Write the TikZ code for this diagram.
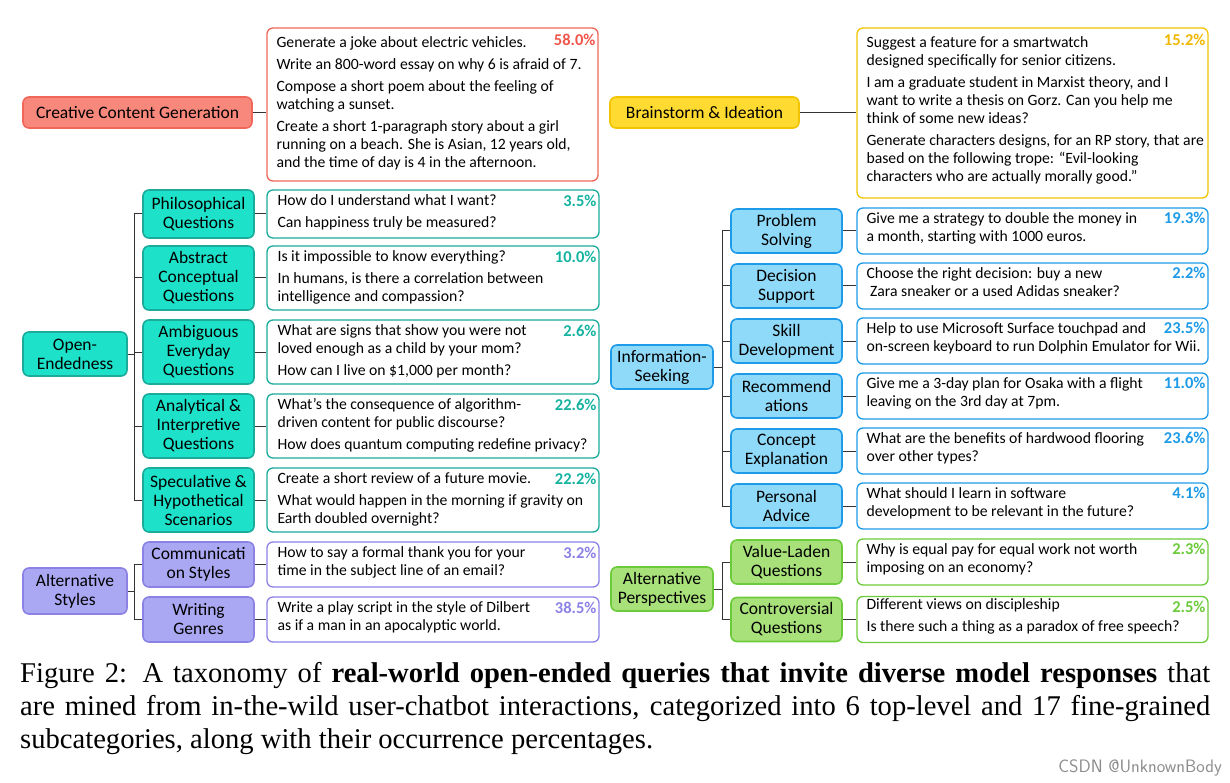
\documentclass[tikz,border=0pt]{standalone}
\usepackage{fontspec}
\setmainfont{Carlito}
\newfontfamily\capfont{Liberation Serif}
\definecolor{redB}{HTML}{F0675A}\definecolor{redF}{HTML}{F8887C}\definecolor{redT}{HTML}{F2564A}
\definecolor{yelB}{HTML}{F2C400}\definecolor{yelF}{HTML}{FFDA30}\definecolor{yelT}{HTML}{F0B800}
\definecolor{tealB}{HTML}{1AAB9B}\definecolor{tealF}{HTML}{1DE2C9}\definecolor{tealT}{HTML}{14B3A0}
\definecolor{purB}{HTML}{8C82E6}\definecolor{purF}{HTML}{AAA8F2}\definecolor{purT}{HTML}{8C82E6}
\definecolor{bluB}{HTML}{1E9BE8}\definecolor{bluF}{HTML}{8FD9F9}\definecolor{bluT}{HTML}{1E9BE8}
\definecolor{grnB}{HTML}{6CCB3A}\definecolor{grnF}{HTML}{A8E07A}\definecolor{grnT}{HTML}{6CCB3A}
\begin{document}
\begin{tikzpicture}[x=1pt,y=-1pt,
  lab/.style={draw=#1B,fill=#1F,line width=1.6pt,rounded corners=6pt,align=center,inner sep=1pt,font=\fontsize{17.5}{19}\selectfont},
  ex/.style={draw=#1B,fill=white,line width=1.3pt,rounded corners=6pt,inner sep=0pt},
  txt/.style={anchor=north west,align=left,inner sep=0pt,font=\fontsize{15.7}{18}\selectfont},
  pct/.style={anchor=north east,inner sep=0pt,text=#1T,font=\bfseries\fontsize{16.5}{16}\selectfont},
  ln/.style={line width=1pt,black!80}]
\useasboundingbox (0,0) rectangle (1230,783);
% ---- Creative
\node[lab=red,minimum width=229,minimum height=31] (cc) at (137.5,112.5) {Creative Content Generation};
\node[ex=red,minimum width=331,minimum height=153] (cce) at (432.5,104.5) {};
\node[txt] at ([shift={(10,9)}]cce.north west) {Generate a joke about electric vehicles.\\[4pt]Write an 800-word essay on why 6 is afraid of 7.\\[4pt]Compose a short poem about the feeling of\\watching a sunset.\\[4pt]Create a short 1-paragraph story about a girl\\running on a beach. She is Asian, 12 years old,\\and the time of day is 4 in the afternoon.};
\node[pct=red] at ([shift={(-3,7)}]cce.north east) {58.0\%};
\draw[ln] (cc.east) -- (cc.east -| cce.west);
% ---- Brainstorm
\node[lab=yel,minimum width=189,minimum height=31] (bi) at (704.5,112.5) {Brainstorm \& Ideation};
\node[ex=yel,minimum width=351,minimum height=170] (bie) at (1032.5,113) {};
\node[txt] at ([shift={(10,9)}]bie.north west) {Suggest a feature for a smartwatch\\designed specifically for senior citizens.\\[4pt]I am a graduate student in Marxist theory, and I\\want to write a thesis on Gorz. Can you help me\\think of some new ideas?\\[4pt]Generate characters designs, for an RP story, that are\\based on the following trope: ``Evil-looking\\characters who are actually morally good.''};
\node[pct=yel] at ([shift={(-3,7)}]bie.north east) {15.2\%};
\draw[ln] (bi.east) -- (bi.east -| bie.west);
% ---- Open-Endedness
\node[lab=teal,minimum width=104,minimum height=44] (oe) at (75,354) {Open-\\Endedness};
\coordinate (ot) at (134,354);
\draw[ln] (oe.east) -- (ot);
\node[lab=teal,minimum width=111,minimum height=48] (o1) at (198.5,214) {Philosophical\\Questions};
\node[lab=teal,minimum width=111,minimum height=64] (o2) at (198.5,278) {Abstract\\Conceptual\\Questions};
\node[lab=teal,minimum width=111,minimum height=64] (o3) at (198.5,352) {Ambiguous\\Everyday\\Questions};
\node[lab=teal,minimum width=111,minimum height=64] (o4) at (198.5,426) {Analytical \&\\Interpretive\\Questions};
\node[lab=teal,minimum width=111,minimum height=64] (o5) at (198.5,500) {Speculative \&\\Hypothetical\\Scenarios};
\node[ex=teal,minimum width=332,minimum height=48] (oe1) at (433,214) {};
\node[ex=teal,minimum width=332,minimum height=64] (oe2) at (433,278) {};
\node[ex=teal,minimum width=332,minimum height=64] (oe3) at (433,352) {};
\node[ex=teal,minimum width=332,minimum height=64] (oe4) at (433,426) {};
\node[ex=teal,minimum width=332,minimum height=64] (oe5) at (433,500) {};
\node[txt] at ([shift={(11,5)}]oe1.north west) {How do I understand what I want?\\[4pt]Can happiness truly be measured?};
\node[txt] at ([shift={(11,5)}]oe2.north west) {Is it impossible to know everything?\\[4pt]In humans, is there a correlation between\\intelligence and compassion?};
\node[txt] at ([shift={(11,5)}]oe3.north west) {What are signs that show you were not\\loved enough as a child by your mom?\\[4pt]How can I live on \$1,000 per month?};
\node[txt] at ([shift={(11,5)}]oe4.north west) {What's the consequence of algorithm-\\driven content for public discourse?\\[4pt]How does quantum computing redefine privacy?};
\node[txt] at ([shift={(11,5)}]oe5.north west) {Create a short review of a future movie.\\[4pt]What would happen in the morning if gravity on\\Earth doubled overnight?};
\node[pct=teal] at ([shift={(-3,6)}]oe1.north east) {3.5\%};
\node[pct=teal] at ([shift={(-3,6)}]oe2.north east) {10.0\%};
\node[pct=teal] at ([shift={(-3,6)}]oe3.north east) {2.6\%};
\node[pct=teal] at ([shift={(-3,6)}]oe4.north east) {22.6\%};
\node[pct=teal] at ([shift={(-3,6)}]oe5.north east) {22.2\%};
\draw[ln] (o1.west -| ot) -- (o5.west -| ot);
\foreach \i in {1,...,5}{\draw[ln] (o\i.west -| ot) -- (o\i.west); \draw[ln] (o\i.east) -- (oe\i.west);}
% ---- Alternative Styles
\node[lab=pur,minimum width=104,minimum height=46] (as) at (75,591) {Alternative\\Styles};
\coordinate (at) at (134,591);
\draw[ln] (as.east) -- (at);
\node[lab=pur,minimum width=111,minimum height=45] (a1) at (198.5,564.5) {Communicati\\on Styles};
\node[lab=pur,minimum width=111,minimum height=45] (a2) at (198.5,619.5) {Writing\\Genres};
\node[ex=pur,minimum width=332,minimum height=45] (ae1) at (433,564.5) {};
\node[ex=pur,minimum width=332,minimum height=45] (ae2) at (433,619.5) {};
\node[txt] at ([shift={(11,5)}]ae1.north west) {How to say a formal thank you for your\\time in the subject line of an email?};
\node[txt] at ([shift={(11,5)}]ae2.north west) {Write a play script in the style of Dilbert\\as if a man in an apocalyptic world.};
\node[pct=pur] at ([shift={(-3,6)}]ae1.north east) {3.2\%};
\node[pct=pur] at ([shift={(-3,6)}]ae2.north east) {38.5\%};
\draw[ln] (a1.west -| at) -- (a2.west -| at);
\foreach \i in {1,2}{\draw[ln] (a\i.west -| at) -- (a\i.west); \draw[ln] (a\i.east) -- (ae\i.west);}
% ---- Information-Seeking
\node[lab=blu,minimum width=102,minimum height=44] (is) at (662,367) {Information-\\Seeking};
\coordinate (it) at (722,367);
\draw[ln] (is.east) -- (it);
\foreach \i/\y/\t in {1/231/{Problem\\Solving},2/286/{Decision\\Support},3/341/{Skill\\Development},4/396/{Recommend\\ations},5/451/{Concept\\Explanation},6/506/{Personal\\Advice}}{
  \node[lab=blu,minimum width=111,minimum height=44] (i\i) at (786.5,\y) {\t};
  \node[ex=blu,minimum width=351,minimum height=46] (ie\i) at (1032.5,\y) {};
}
\node[txt] at ([shift={(10,5)}]ie1.north west) {Give me a strategy to double the money in\\a month, starting with 1000 euros.};
\node[txt] at ([shift={(10,5)}]ie2.north west) {Choose the right decision: buy a new\\\ Zara sneaker or a used Adidas sneaker?};
\node[txt] at ([shift={(10,5)}]ie3.north west) {Help to use Microsoft Surface touchpad and\\on-screen keyboard to run Dolphin Emulator for Wii.};
\node[txt] at ([shift={(10,5)}]ie4.north west) {Give me a 3-day plan for Osaka with a flight\\leaving on the 3rd day at 7pm.};
\node[txt] at ([shift={(10,5)}]ie5.north west) {What are the benefits of hardwood flooring\\over other types?};
\node[txt] at ([shift={(10,5)}]ie6.north west) {What should I learn in software\\development to be relevant in the future?};
\foreach \i/\p in {1/19.3,2/2.2,3/23.5,4/11.0,5/23.6,6/4.1}{
  \node[pct=blu] at ([shift={(-3,5)}]ie\i.north east) {\p\%};
  \draw[ln] (i\i.west -| it) -- (i\i.west); \draw[ln] (i\i.east) -- (ie\i.west);}
\draw[ln] (i1.west -| it) -- (i6.west -| it);
% ---- Alternative Perspectives
\node[lab=grn,minimum width=102,minimum height=44] (ap) at (662,589) {Alternative\\Perspectives};
\coordinate (pt) at (722,589);
\draw[ln] (ap.east) -- (pt);
\node[lab=grn,minimum width=111,minimum height=44] (p1) at (786.5,562) {Value-Laden\\Questions};
\node[lab=grn,minimum width=111,minimum height=44] (p2) at (786.5,619.5) {Controversial\\Questions};
\node[ex=grn,minimum width=351,minimum height=46] (pe1) at (1032.5,562) {};
\node[ex=grn,minimum width=351,minimum height=46] (pe2) at (1032.5,619.5) {};
\node[txt] at ([shift={(10,5)}]pe1.north west) {Why is equal pay for equal work not worth\\imposing on an economy?};
\node[txt] at ([shift={(10,3)}]pe2.north west) {Different views on discipleship\\[4pt]Is there such a thing as a paradox of free speech?};
\node[pct=grn] at ([shift={(-3,5)}]pe1.north east) {2.3\%};
\node[pct=grn] at ([shift={(-3,5)}]pe2.north east) {2.5\%};
\draw[ln] (p1.west -| pt) -- (p2.west -| pt);
\foreach \i in {1,2}{\draw[ln] (p\i.west -| pt) -- (p\i.west); \draw[ln] (p\i.east) -- (pe\i.west);}
% ---- caption
\node[anchor=north west,inner sep=0pt,text width=1190pt,align=justify,font=\capfont\fontsize{28.6}{33}\selectfont] (cap) at (20,662) {Figure 2: A taxonomy of \textbf{real-world open-ended queries that invite diverse model responses} that\linebreak are mined from in-the-wild user-chatbot interactions, categorized into 6 top-level and 17 fine-grained\linebreak subcategories, along with their occurrence percentages.};
\node[anchor=south east,inner sep=0pt,text=black!45,font=\fontsize{18}{19}\selectfont\sffamily] (wm) at (1222,776) {CSDN @UnknownBody};
\end{tikzpicture}
\end{document}
